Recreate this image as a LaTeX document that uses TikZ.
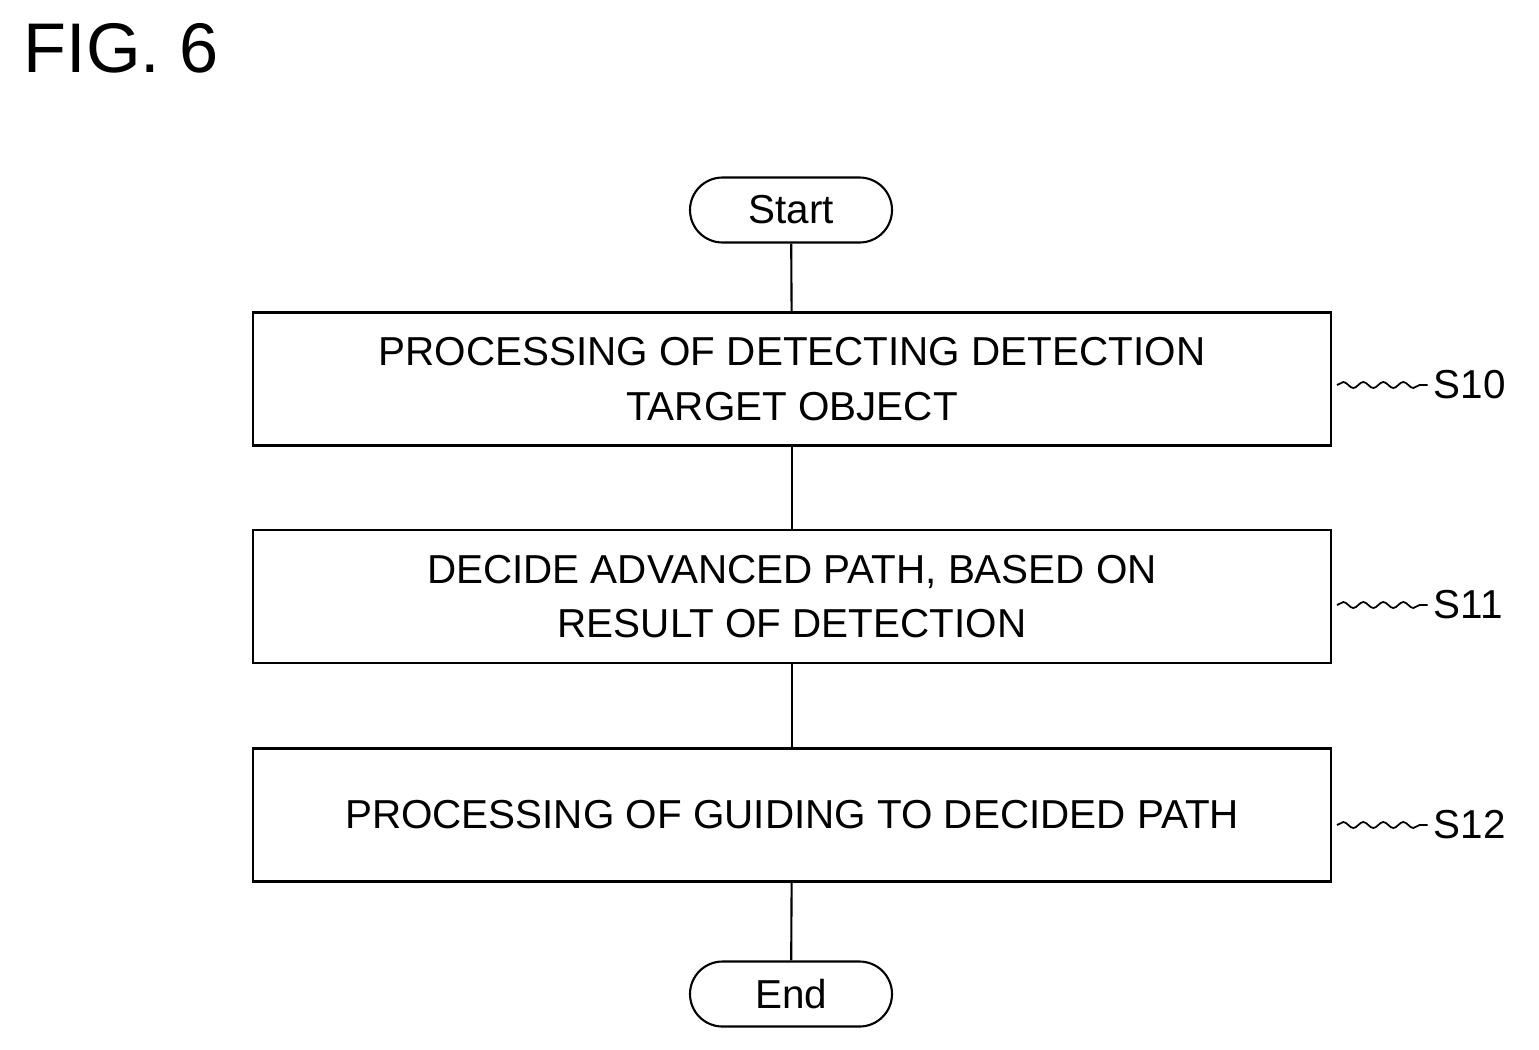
\documentclass[tikz,border=0pt]{standalone}
\usepackage{fontspec}
\setmainfont{Liberation Sans}
\usetikzlibrary{positioning,decorations.pathmorphing}

\tikzset{
  procbox/.style = {draw, line width=1.2pt, minimum width=21.56cm, minimum height=2.66cm,
                 align=center, font=\fontsize{23}{31}\selectfont},
  term/.style = {draw, line width=1.2pt, rounded corners=0.65cm, minimum width=4.04cm,
                 minimum height=1.3cm, font=\fontsize{23}{28}\selectfont},
  tag/.style  = {font=\fontsize{23}{28}\selectfont, anchor=west},
  squig/.style = {line width=1pt, decorate, decoration={snake, amplitude=0.6mm, segment length=4mm}}
}

\begin{document}
\begin{tikzpicture}
	\useasboundingbox (0,0) rectangle (30.78,-20.98);
	\node[anchor=west, font=\fontsize{40}{44}\selectfont] (fig) at (0.35,-0.96) {FIG. 6};

	% flow
	\node[term] (start) at (15.82,-4.2) {Start};
	\node[procbox] (s10) at (15.84,-7.58) {PROCESSING OF DETECTING DETECTION\\TARGET OBJECT};
	\node[procbox] (s11) at (15.84,-11.93) {DECIDE ADVANCED PATH, BASED ON\\RESULT OF DETECTION};
	\node[procbox] (s12) at (15.84,-16.3) {PROCESSING OF GUIDING TO DECIDED PATH};
	\node[term] (end) at (15.82,-19.88) {End};

	\draw[line width=1.2pt] (start) -- (s10);
	\draw[line width=1.2pt] (s10) -- (s11);
	\draw[line width=1.2pt] (s11) -- (s12);
	\draw[line width=1.2pt] (s12) -- (end);

	% step labels
	\node[tag] (l10) at (28.55,-7.7) {S10};
	\node[tag] (l11) at (28.55,-12.1) {S11};
	\node[tag] (l12) at (28.55,-16.5) {S12};
	\draw[squig] (s10.east |- l10.west) ++(0.1,0) -- (l10.west);
	\draw[squig] (s11.east |- l11.west) ++(0.1,0) -- (l11.west);
	\draw[squig] (s12.east |- l12.west) ++(0.1,0) -- (l12.west);
\end{tikzpicture}
\end{document}
